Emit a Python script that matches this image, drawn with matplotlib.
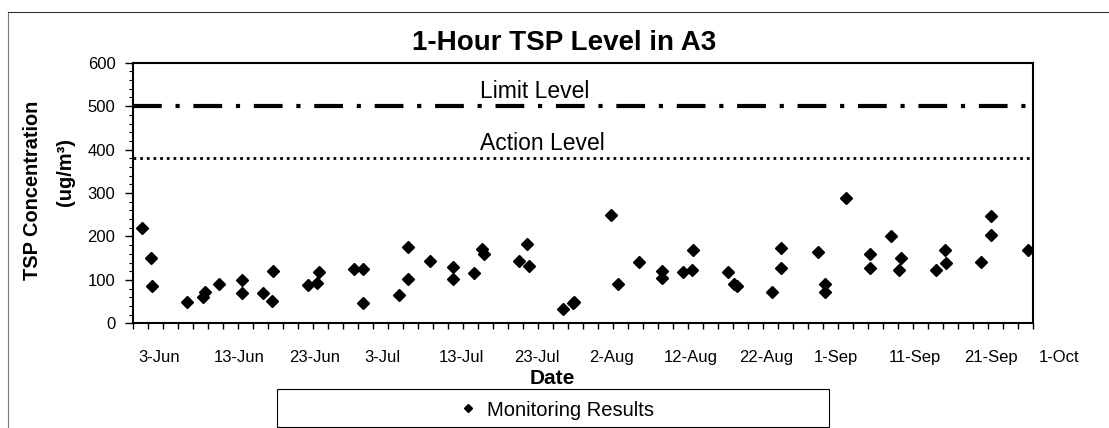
import numpy as np
import pandas as pd
import matplotlib
matplotlib.use("Agg")
import matplotlib.pyplot as plt
import matplotlib.dates as mdates
from matplotlib.patches import Rectangle
from matplotlib.lines import Line2D
from matplotlib.transforms import ScaledTranslation

plt.rcParams["font.family"] = ["Liberation Sans", "DejaVu Sans"]

# ---------------------------------------------------------------------------
# data
# ---------------------------------------------------------------------------
START = pd.Timestamp("2005-06-03")
END = pd.Timestamp("2005-10-01")

# days after 3-Jun
day_offset = [1.2, 2.4, 2.6, 7.2, 9.4, 9.6, 11.5, 14.6, 14.6, 17.3, 18.5, 18.7,
              23.4, 24.5, 24.8, 29.5, 30.7, 30.7, 35.5, 36.7, 36.7, 39.6, 42.7,
              42.7, 45.5, 46.6, 46.8, 51.5, 52.5, 52.8, 57.4, 58.7, 58.8,
              63.7, 64.7, 67.5, 70.6, 70.6, 73.4, 74.5, 74.7, 79.3, 80.2, 80.6,
              85.2, 86.4, 86.4, 91.4, 92.3, 92.3, 95.1, 98.3, 98.3, 101.1,
              102.4, 102.2, 107.1, 108.2, 108.4, 113.1, 114.4, 114.4, 119.3]
tsp = [220, 150, 86, 48, 61, 73, 90, 99, 70, 70, 51, 121,
       88, 92, 117, 125, 125, 47, 65, 101, 175, 143, 129,
       101, 115, 171, 160, 143, 183, 133, 32, 47, 50,
       250, 91, 141, 121, 104, 118, 123, 169, 118, 91, 86,
       73, 173, 128, 164, 91, 72, 288, 160, 127, 200,
       150, 123, 123, 169, 140, 141, 248, 204, 168]

limit_level = 500
action_level = 380

tick_labels = ["3-Jun", "13-Jun", "23-Jun", "3-Jul", "13-Jul", "23-Jul", "2-Aug",
               "12-Aug", "22-Aug", "1-Sep", "11-Sep", "21-Sep", "1-Oct"]

dates = mdates.date2num((START + pd.to_timedelta(day_offset, unit="D")).to_pydatetime())
x0, x1 = mdates.date2num(START.to_pydatetime()), mdates.date2num(END.to_pydatetime())

# ---------------------------------------------------------------------------
# figure
# ---------------------------------------------------------------------------
fig = plt.figure(figsize=(11.09, 4.28), dpi=100)
ax = fig.add_axes([0.1197, 0.2446, 0.8118, 0.6089])

ax.plot(dates, tsp, ls="none", marker="D", ms=6.5, color="black",
        label="Monitoring Results")
ax.axhline(limit_level, color="black", lw=3, ls=(0, (6.9, 3.3, 1, 3.3)))
ax.axhline(action_level, color="black", lw=2, ls=(0, (1, 1.4)))
ax.text(x0 + 46.3, 533, "Limit Level", fontsize=16.5, va="center", ha="left")
ax.text(x0 + 46.3, 415, "Action Level", fontsize=16.5, va="center", ha="left")

ax.set_xlim(x0, x1)
ax.set_ylim(0, 600)
ax.set_xticks(np.arange(x0, x1 + 0.5, 10))
ax.set_xticklabels(tick_labels)
ax.set_xticks(np.arange(x0, x1 + 0.5, 2), minor=True)
ax.set_yticks(np.arange(0, 601, 100))
ax.set_yticks(np.arange(0, 601, 20), minor=True)

ax.tick_params(axis="x", which="both", direction="out", length=4, width=1,
               pad=15, labelsize=12)
ax.tick_params(axis="y", which="major", direction="out", length=6, width=1,
               pad=6.5, labelsize=12)
ax.tick_params(axis="y", which="minor", direction="out", length=3, width=0.8)
for s in ax.spines.values():
    s.set_linewidth(1.5)

# date labels sit just right of their tick, left-aligned
shift = ScaledTranslation(6 / 100, 0, fig.dpi_scale_trans)
for lab in ax.get_xticklabels():
    lab.set_horizontalalignment("left")
    lab.set_transform(lab.get_transform() + shift)

fig.text(564 / 1109, 1 - 43.3 / 428, "1-Hour TSP Level in A3", fontsize=20,
         fontweight="bold", ha="center", va="center")
fig.text(33 / 1109, 1 - 190 / 428, "TSP Concentration", fontsize=14.4,
         fontweight="bold", rotation=90, ha="center", va="center")
fig.text(66 / 1109, 1 - 172 / 428, "(ug/m³)", fontsize=14.4,
         fontweight="bold", rotation=90, ha="center", va="center")
fig.text(552 / 1109, 1 - 379 / 428, "Date", fontsize=15, fontweight="bold",
         ha="center", va="center")

# legend box under the axis
fig.patches.append(Rectangle((277 / 1109, 1 - 427 / 428), 552 / 1109, 38 / 428,
                             transform=fig.transFigure, fill=False,
                             edgecolor="black", lw=0.8))
fig.legend(loc="center", bbox_to_anchor=(557 / 1109, 1 - 410 / 428),
           frameon=False, fontsize=14.5, markerscale=0.65, handlelength=0.8,
           handletextpad=0.5)

# thin page border (left and top)
fig.add_artist(Line2D([7.5 / 1109, 7.5 / 1109], [0, 1 - 12 / 428],
                      transform=fig.transFigure, color="#777777", lw=0.8))
fig.add_artist(Line2D([7.5 / 1109, 1], [1 - 12 / 428, 1 - 12 / 428],
                      transform=fig.transFigure, color="#333333", lw=0.8))

fig.savefig("out.png", dpi=100)
